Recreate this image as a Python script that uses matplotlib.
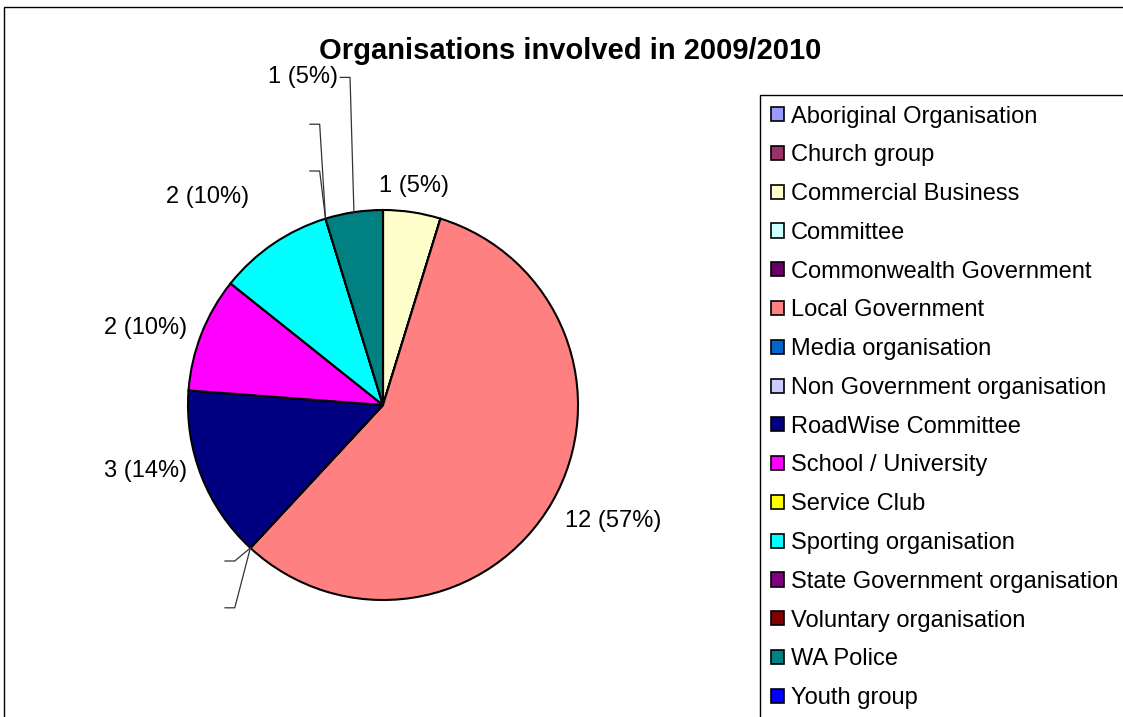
# Pie chart of organisations involved in 2009/2010, Excel style.

import matplotlib
matplotlib.use('Agg')
import matplotlib.pyplot as plt
import numpy as np

plt.rcParams['font.family'] = ['Liberation Sans', 'DejaVu Sans']

categories = ['Aboriginal Organisation', 'Church group', 'Commercial Business',
              'Committee', 'Commonwealth Government', 'Local Government',
              'Media organisation', 'Non Government organisation',
              'RoadWise Committee', 'School / University', 'Service Club',
              'Sporting organisation', 'State Government organisation',
              'Voluntary organisation', 'WA Police', 'Youth group']
counts = [0, 0, 1, 0, 0, 12, 0, 0, 3, 2, 0, 2, 0, 0, 1, 0]
colors = ['#9999FF', '#993366', '#FFFFCC', '#CCFFFF', '#660066', '#FF8080',
          '#0066CC', '#CCCCFF', '#000080', '#FF00FF', '#FFFF00', '#00FFFF',
          '#800080', '#800000', '#008080', '#0000FF']

# label layout (not data): distance from centre and vertical alignment
label_layout = {'Commercial Business': (1.08, 'bottom'),
                'Local Government': (1.08, 'top'),
                'RoadWise Committee': (1.08, 'bottom'),
                'School / University': (1.08, 'center'),
                'Sporting organisation': (1.22, 'bottom')}
# leader lines: label height, elbow offset from slice edge
leaders = {'WA Police': (1.68, -0.02),
           'Voluntary organisation': (1.44, -0.03),
           'State Government organisation': (1.2, -0.03),
           'Media organisation': (-0.8, -0.08),
           'Non Government organisation': (-1.04, -0.08)}

fig = plt.figure(figsize=(11.23, 7.17), dpi=100)
ax = fig.add_axes([0, 0, 1, 1])

wedges, _ = ax.pie(counts, colors=colors, startangle=90, counterclock=False,
                   wedgeprops=dict(edgecolor='black', linewidth=1.5))

# axes limits so 1 unit = 195 px and the pie centre is at (383, 405) px
ax.set_xlim(-383 / 195, (1123 - 383) / 195)
ax.set_ylim(-(717 - 405) / 195, 405 / 195)
ax.set_aspect('auto')
ax.axis('off')

total = sum(counts)
for name, v, w in zip(categories, counts, wedges):
    txt = '%d (%d%%)' % (v, round(v / total * 100))
    if name in leaders:
        hy, dx = leaders[name]
        ang = np.radians((w.theta1 + w.theta2) / 2)
        ex, ey = np.cos(ang), np.sin(ang)
        elbow = ex + dx
        ax.plot([elbow - 0.05, elbow, ex], [hy, hy, ey], color='#333333', lw=0.9)
        if v > 0:
            ax.text(elbow - 0.06, hy, txt, ha='right', va='center', fontsize=17)
        continue
    if v == 0:
        continue
    ang = np.radians((w.theta1 + w.theta2) / 2)
    r, va = label_layout.get(name, (1.08, 'center'))
    x, y = r * np.cos(ang), r * np.sin(ang)
    ha = 'right' if x < -0.3 else ('left' if x > 0.3 else 'center')
    ax.text(x, y, txt, ha=ha, va=va, fontsize=17)

fig.suptitle('Organisations involved in 2009/2010', x=570 / 1123, y=1 - 51 / 717,
             va='center', fontsize=21, fontweight='bold')

leg = ax.legend(wedges, categories, loc='upper left',
                bbox_to_anchor=(760 / 1123, 1 - 95 / 717), bbox_transform=fig.transFigure,
                fontsize=17, frameon=True, fancybox=False, framealpha=1,
                edgecolor='black', handlelength=0.55, handleheight=0.55,
                handletextpad=0.3, labelspacing=0.71, borderpad=0.45,
                borderaxespad=0)
leg.get_frame().set_linewidth(1.0)
for h in leg.legend_handles:
    h.set_linewidth(1.2)

# outer chart border
fig.patches.append(plt.Rectangle((4 / 1123, -0.1), 1.2, 1 - 7 / 717 + 0.1,
                                 transform=fig.transFigure, fill=False,
                                 edgecolor='black', linewidth=1.0))

plt.savefig('out.png', dpi=100)
